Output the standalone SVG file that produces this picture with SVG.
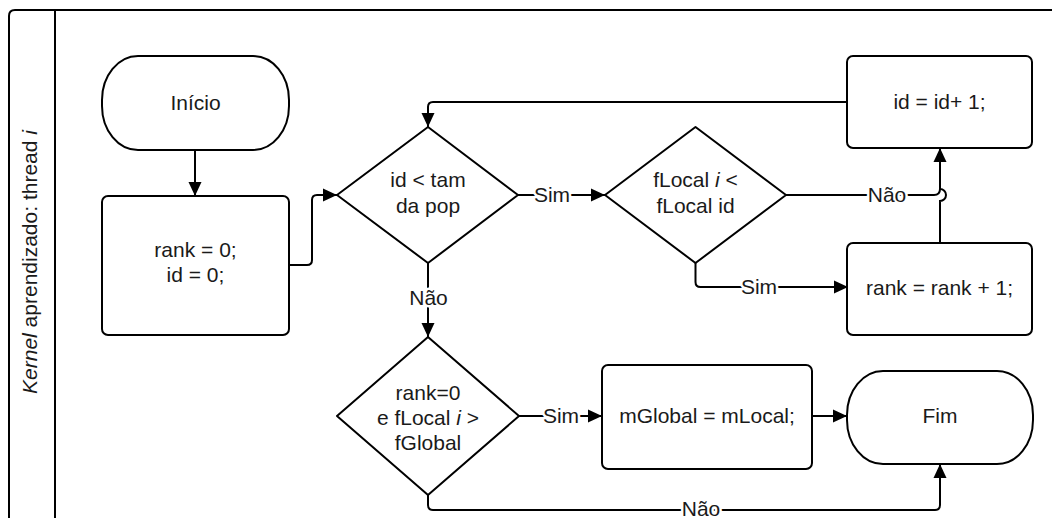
<svg xmlns="http://www.w3.org/2000/svg" width="1052" height="518" viewBox="0 0 1052 518">
  <style>
    .shape { fill: #ffffff; stroke: #000000; stroke-width: 2; }
    .frame { fill: none; stroke: #000000; stroke-width: 2; }
    .wire { fill: none; stroke: #000000; stroke-width: 2; }
    .txt { font-family: "Liberation Sans", Arial, sans-serif; font-size: 21px; fill: #1a1a1a; text-anchor: middle; }
    .lbl { font-family: "Liberation Sans", Arial, sans-serif; font-size: 21px; fill: #1a1a1a; text-anchor: middle;
           stroke: #ffffff; stroke-width: 5px; paint-order: stroke; stroke-linejoin: round; }
  </style>
  <defs>
    <marker id="arrow" markerUnits="userSpaceOnUse" markerWidth="14" markerHeight="14" refX="14" refY="7" orient="auto">
      <path d="M0,0.5 L14,7 L0,13.5 Z" fill="#000000"/>
    </marker>
  </defs>

  <rect width="1052" height="518" fill="#ffffff"/>

  <!-- swimlane frame -->
  <g id="lane">
    <path class="frame" d="M1052,10 H15 Q9,10 9,16 V518"/>
    <path class="frame" d="M55,10 V518"/>
    <text class="txt" transform="translate(37,262) rotate(-90)"><tspan font-style="italic">Kernel</tspan> aprendizado: thread <tspan font-style="italic">i</tspan></text>
  </g>

  <!-- connectors -->
  <g id="connectors">
    <path class="wire" d="M195,150 V196" marker-end="url(#arrow)"/>
    <path class="wire" d="M289,265 H307 Q312,265 312,260 V200 Q312,195 317,195 H337" marker-end="url(#arrow)"/>
    <path class="wire" d="M518,195 H605" marker-end="url(#arrow)"/>
    <path class="wire" d="M695.5,263 V282 Q695.5,287 700.5,287 H848" marker-end="url(#arrow)"/>
    <path class="wire" d="M786,195 H934 Q940,195 940,189"/>
    <path class="wire" d="M940,243 V201 A6,6 0 0 0 940,189 V148" marker-end="url(#arrow)"/>
    <path class="wire" d="M847,102 H433 Q428,102 428,107 V127" marker-end="url(#arrow)"/>
    <path class="wire" d="M428,263 V337" marker-end="url(#arrow)"/>
    <path class="wire" d="M519,416 H602" marker-end="url(#arrow)"/>
    <path class="wire" d="M812,416 H847" marker-end="url(#arrow)"/>
    <path class="wire" d="M428,495 V505 Q428,510 433,510 H935 Q940,510 940,505 V464" marker-end="url(#arrow)"/>
    <text class="lbl" x="552" y="202">Sim</text>
    <text class="lbl" x="759" y="294">Sim</text>
    <text class="lbl" x="887" y="202">Não</text>
    <text class="lbl" x="428.5" y="305">Não</text>
    <text class="lbl" x="561" y="423">Sim</text>
    <text class="lbl" x="701" y="516" font-size="20px">Não</text>
  </g>

  <g id="inicio">
    <rect class="shape" x="102" y="56" width="187" height="94" rx="36" ry="44"/>
    <text class="txt" x="195.5" y="110">Início</text>
  </g>

  <g id="init">
    <rect class="shape" x="102" y="196" width="187" height="139" rx="6"/>
    <text class="txt" x="195.5" y="257">rank = 0;</text>
    <text class="txt" x="195.5" y="282">id = 0;</text>
  </g>

  <g id="cond-pop">
    <polygon class="shape" points="428,127 518,195 428,263 337,195" stroke-linejoin="round"/>
    <text class="txt" x="428" y="187">id &lt; tam</text>
    <text class="txt" x="428" y="213">da pop</text>
  </g>

  <g id="cond-fitness">
    <polygon class="shape" points="695.5,127 786,195 695.5,263 605,195" stroke-linejoin="round"/>
    <text class="txt" x="695.5" y="187">fLocal <tspan font-style="italic">i</tspan> &lt;</text>
    <text class="txt" x="695.5" y="213">fLocal id</text>
  </g>

  <g id="inc-id">
    <rect class="shape" x="847" y="56" width="185" height="92" rx="6"/>
    <text class="txt" x="939.5" y="109">id = id+ 1;</text>
  </g>

  <g id="inc-rank">
    <rect class="shape" x="847" y="243" width="185" height="92" rx="6"/>
    <text class="txt" x="939.5" y="295">rank = rank + 1;</text>
  </g>

  <g id="cond-best">
    <polygon class="shape" points="428,337 519,416 428,495 337,416" stroke-linejoin="round"/>
    <text class="txt" x="428" y="400">rank=0</text>
    <text class="txt" x="428" y="425">e fLocal <tspan font-style="italic">i</tspan> &gt;</text>
    <text class="txt" x="428" y="450">fGlobal</text>
  </g>

  <g id="copy-global">
    <rect class="shape" x="602" y="365" width="210" height="104" rx="6"/>
    <text class="txt" x="707" y="423">mGlobal = mLocal;</text>
  </g>

  <g id="fim">
    <rect class="shape" x="847" y="371" width="186" height="93" rx="36" ry="44"/>
    <text class="txt" x="940" y="423">Fim</text>
  </g>
</svg>
